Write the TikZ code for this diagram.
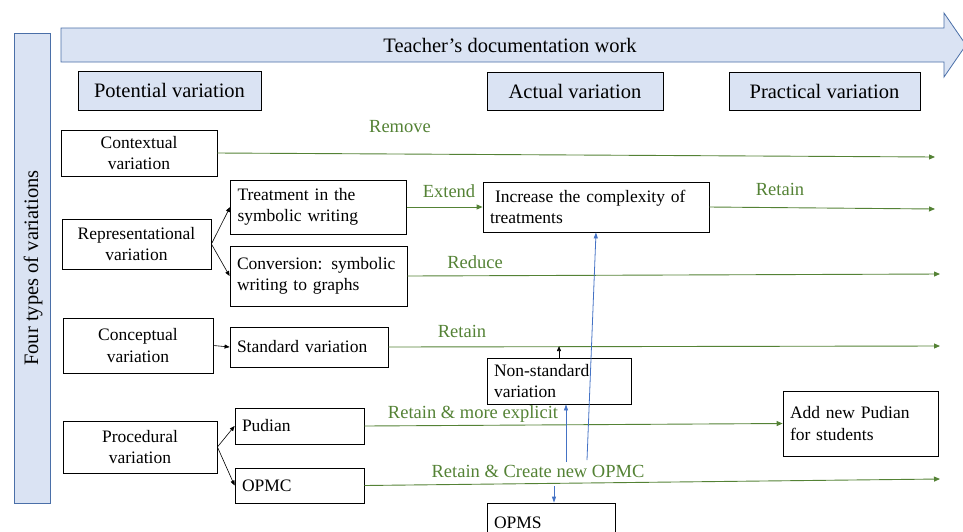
\documentclass[tikz,border=0pt]{standalone}
\usepackage{fontspec}
\setmainfont{Liberation Serif}
\usetikzlibrary{arrows.meta}
\definecolor{lightblue}{HTML}{DAE3F3}
\definecolor{edgeblue}{HTML}{4A6FA8}
\definecolor{leafgreen}{HTML}{548235}
\definecolor{linkblue}{HTML}{4472C4}
\tikzset{
  box/.style={draw=black, fill=white, line width=0.8pt, inner sep=0pt, align=center, font=\fontsize{17.5}{21.5}\selectfont},
  lbox/.style={box, align=left, inner xsep=7pt, text width=#1},
  hdr/.style={box, fill=lightblue, font=\fontsize{20.5}{24}\selectfont},
  flow/.style={draw=leafgreen, line width=0.9pt, -{Triangle[length=6pt,width=5pt]}},
  flowlabel/.style={text=leafgreen, inner sep=0pt, font=\fontsize{18.5}{22}\selectfont},
  link/.style={draw=black, line width=0.6pt, -{Triangle[length=5pt,width=4pt]}},
  back/.style={draw=linkblue, line width=0.8pt, -{Triangle[length=6pt,width=4pt]}},
}
\begin{document}
\begin{tikzpicture}[x=1pt,y=-1pt]
  \useasboundingbox (0,0) rectangle (963,531);
  % the long arrow and the side bar
  \filldraw[fill=lightblue, draw=edgeblue, line width=0.8pt] (61,28) -- (944,28) -- (944,13) -- (966,45) -- (944,77) -- (944,62) -- (61,62) -- cycle;
  \node[font=\fontsize{20.5}{24}\selectfont] (title) at (510,45) {Teacher’s documentation work};
  \filldraw[fill=lightblue, draw=edgeblue, line width=1pt] (14,33) rectangle (50,503);
  \node[rotate=90, font=\fontsize{20.5}{24}\selectfont] (side) at (33,268) {Four types of variations};

  \node[hdr, minimum width=183, minimum height=39] (potential) at (169.5,90.5) {Potential variation};
  \node[hdr, minimum width=176, minimum height=38] (actual) at (575,91) {Actual variation};
  \node[hdr, minimum width=191, minimum height=38] (practical) at (824.5,91) {Practical variation};

  \node[box, minimum width=156, minimum height=46] (ctx) at (139,153) {Contextual\\variation};
  \node[box, minimum width=149, minimum height=50] (rep) at (136.5,244) {Representational\\variation};
  \node[box, minimum width=150, minimum height=55] (cpt) at (138,345.5) {Conceptual\\variation};
  \node[box, minimum width=154, minimum height=52] (proc) at (140,447) {Procedural\\variation};

  \node[lbox=162, minimum height=54] (treat) at (318.5,207) {Treatment in the\\symbolic writing};
  \node[lbox=163, minimum height=60] (conv) at (318.5,276) {Conversion: symbolic\\writing to graphs};
  \node[lbox=144, minimum height=40] (std) at (309,347) {Standard variation};
  \node[lbox=115, minimum height=36] (pud) at (299.5,426) {Pudian};
  \node[lbox=115, minimum height=35] (opmc) at (299.5,485.5) {OPMC};

  \node[lbox=212, minimum height=50] (incr) at (596,207) {\hspace*{5pt}Increase the complexity of\\treatments};
  \node[lbox=130, minimum height=46] (nonstd) at (559,381) {Non-standard\\variation};
  \node[lbox=141, minimum height=65] (addpud) at (860.5,423.5) {Add new Pudian\\for students};
  \node[lbox=114, minimum height=40] (opms) at (551,523) {OPMS};

  % black links
  \draw[link] (rep.east) -- (treat.west);
  \draw[link] (rep.east) -- (conv.west);
  \draw[link] (cpt.east) -- (std.west);
  \draw[link] (proc.east) -- (pud.west);
  \draw[link] (proc.east) -- (opmc.west);
  \coordinate (stdline) at (559,346);
  \draw[link] (nonstd.north) -- (stdline);

  % green flows
  \coordinate (endctx) at (935,157);
  \coordinate (endinc) at (935,209);
  \coordinate (endconv) at (940,274);
  \coordinate (endstd) at (940,346);
  \coordinate (endopmc) at (940,479);
  \draw[flow] (ctx.east) -- (endctx);
  \draw[flow] (treat.east) -- (incr.west);
  \draw[flow] (incr.east) -- (endinc);
  \draw[flow] (conv.east) -- (endconv);
  \draw[flow] (std.east) -- (endstd);
  \draw[flow] (pud.east) -- (addpud.west);
  \draw[flow] (opmc.east) -- (endopmc);
  \node[flowlabel] (remove) at (400,127) {Remove};
  \node[flowlabel] (extend) at (449,191) {Extend};
  \node[flowlabel] (retaina) at (780,189) {Retain};
  \node[flowlabel] (reduce) at (475,262) {Reduce};
  \node[flowlabel] (retainb) at (462,331) {Retain};
  \node[flowlabel] (explicit) at (473,414) {Retain \& more explicit};
  \node[flowlabel] (create) at (538,471) {Retain \& Create new OPMC};

  % blue links
  \coordinate (upa) at (566,462);
  \coordinate (upb) at (587,460);
  \coordinate (down) at (554,486);
  \draw[back] (upa) -- (upa |- nonstd.south);
  \draw[back] (upb) -- (incr.south);
  \draw[back] (down) -- (down |- opms.north);
\end{tikzpicture}
\end{document}
